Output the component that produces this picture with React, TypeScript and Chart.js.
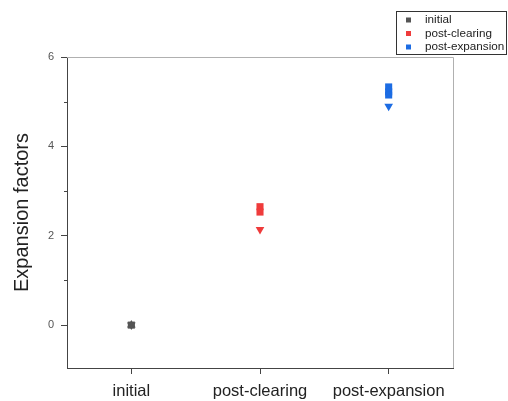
import React, { useEffect, useRef } from 'react';
import { Chart, registerables } from 'chart.js';

Chart.register(...registerables);

const categories = ['initial', 'post-clearing', 'post-expansion'];
const seriesNames = ['initial', 'post-clearing', 'post-expansion'];
const seriesColors = ['#555555', '#ef3b3b', '#1c6ce3'];

const initialValues = [0, 0, 0];
const initialShapes = ['rect', 'triangle', 'triangle'];
const initialRotations = [0, 0, 180];

const clearingValues = [2.65, 2.53, 2.14];
const clearingShapes = ['rect', 'rect', 'triangle'];
const clearingRotations = [0, 0, 180];

const expansionValues = [5.33, 5.22, 5.15, 4.9];
const expansionShapes = ['rect', 'rect', 'rect', 'triangle'];
const expansionRotations = [0, 0, 0, 180];

const yMajorTicks = [0, 2, 4, 6];
const yMinorTicks = [1, 3, 5];
const yMin = -0.96;
const yMax = 6;

const FONT = "'Liberation Sans', Arial, sans-serif";

const framePlugin = {
  id: 'frameAndLegend',
  afterDraw(chart: any) {
    const { ctx, chartArea } = chart;
    const ys = chart.scales.y;
    ctx.save();
    // top and right frame
    ctx.strokeStyle = '#b0b0b0';
    ctx.lineWidth = 1;
    ctx.beginPath();
    ctx.moveTo(chartArea.left, chartArea.top + 0.5);
    ctx.lineTo(chartArea.right + 0.5, chartArea.top + 0.5);
    ctx.lineTo(chartArea.right + 0.5, chartArea.bottom);
    ctx.stroke();
    // minor ticks on y
    ctx.strokeStyle = '#444';
    ctx.beginPath();
    yMinorTicks.forEach((v) => {
      const py = Math.round(ys.getPixelForValue(v)) + 0.5;
      ctx.moveTo(chartArea.left - 3, py);
      ctx.lineTo(chartArea.left, py);
    });
    ctx.stroke();
    // legend
    const lx = 396.5;
    const ly = 11.5;
    const lw = 110;
    const lh = 43;
    ctx.fillStyle = '#ffffff';
    ctx.fillRect(lx, ly, lw, lh);
    ctx.strokeStyle = '#333';
    ctx.strokeRect(lx, ly, lw, lh);
    ctx.font = `11.7px ${FONT}`;
    ctx.textBaseline = 'middle';
    ctx.textAlign = 'left';
    chart.data.datasets.forEach((ds: any, i: number) => {
      const cy = 20 + i * 13.5;
      ctx.fillStyle = ds.borderColor;
      ctx.fillRect(406, cy - 2.5, 5, 5);
      ctx.fillStyle = '#222';
      ctx.fillText(ds.label, 425, cy);
    });
    ctx.restore();
  },
};

function toPoints(values: number[], xIndex: number) {
  return values.map((v) => ({ x: xIndex, y: v }));
}

export default function App() {
  const ref = useRef<HTMLCanvasElement | null>(null);

  useEffect(() => {
    if (!ref.current) return;
    const datasets = [
      { values: initialValues, shapes: initialShapes, rot: initialRotations },
      { values: clearingValues, shapes: clearingShapes, rot: clearingRotations },
      { values: expansionValues, shapes: expansionShapes, rot: expansionRotations },
    ].map((s, i) => ({
      label: seriesNames[i],
      data: toPoints(s.values, i),
      pointStyle: s.shapes,
      rotation: s.rot,
      pointRadius: 5,
      backgroundColor: seriesColors[i],
      borderColor: seriesColors[i],
      borderWidth: 0,
      showLine: false,
    }));

    const chart = new Chart(ref.current, {
      type: 'scatter',
      data: { datasets: datasets as any },
      plugins: [framePlugin],
      options: {
        responsive: false,
        animation: false,
        layout: { padding: { left: 0, right: 55, top: 57, bottom: 0 } },
        plugins: {
          legend: { display: false },
          tooltip: { enabled: false },
        },
        scales: {
          x: {
            type: 'linear',
            min: -0.5,
            max: 2.5,
            afterBuildTicks: (scale: any) => {
              scale.ticks = categories.map((_, i) => ({ value: i }));
            },
            afterFit: (scale: any) => {
              scale.height = 33;
            },
            ticks: {
              callback: (v: any) => categories[Number(v)] ?? '',
              font: { family: FONT, size: 16.5 },
              color: '#222',
              padding: 8,
              maxRotation: 0,
              autoSkip: false,
            },
            grid: {
              drawOnChartArea: false,
              tickLength: 6,
              tickColor: '#444',
            },
            border: { display: true, color: '#444', width: 1 },
          },
          y: {
            type: 'linear',
            min: yMin,
            max: yMax,
            afterBuildTicks: (scale: any) => {
              scale.ticks = yMajorTicks.map((v) => ({ value: v }));
            },
            afterFit: (scale: any) => {
              scale.width = 67;
            },
            ticks: {
              font: { family: FONT, size: 11 },
              color: '#555',
              padding: 7,
            },
            grid: {
              drawOnChartArea: false,
              tickLength: 6,
              tickColor: '#444',
            },
            border: { display: true, color: '#444', width: 1 },
            title: {
              display: true,
              text: 'Expansion factors',
              font: { family: FONT, size: 20 },
              color: '#222',
              padding: { top: 10, bottom: 0 },
            },
          },
        },
      },
    });
    return () => chart.destroy();
  }, []);

  return (
    <div style={{ position: 'fixed', left: 0, top: 0, width: 508, height: 401, background: '#fff' }}>
      <canvas ref={ref} width={508} height={401} style={{ width: 508, height: 401 }} />
    </div>
  );
}
